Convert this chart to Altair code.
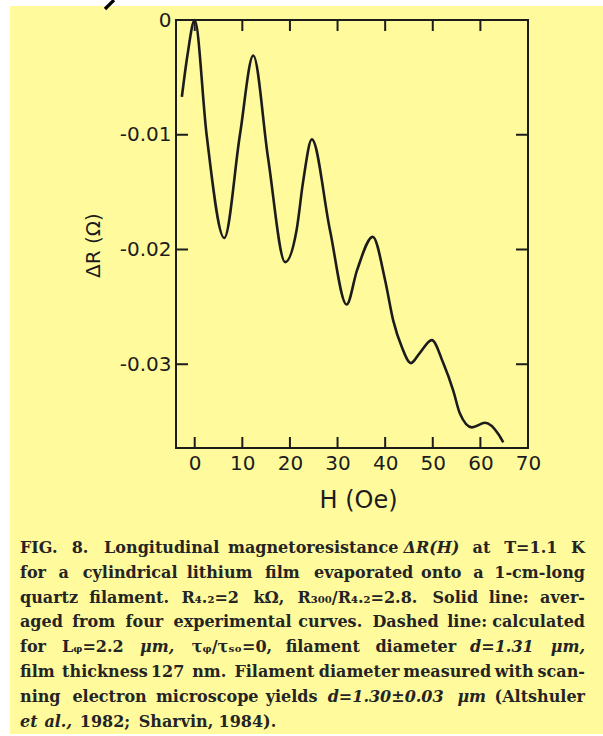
import altair as alt
import pandas as pd

# ---- measured curve: field H (Oe) vs magnetoresistance change dR (Ohm) ----
H_OE = [-2.7, -1.5, 0.0, 2.5, 6.2, 9.5, 12.3, 15.4, 19.0, 21.4, 22.8, 24.6,
        28.4, 31.9, 34.1, 37.4, 40.0, 41.7, 43.5, 45.4, 47.3, 49.8, 52.2,
        54.3, 55.7, 58.2, 61.0, 63.8, 64.8]
DELTA_R = [-0.0067, -0.0030, 0.0, -0.0100, -0.0190, -0.0100, -0.0031, -0.0120,
           -0.0211, -0.0183, -0.0140, -0.0104, -0.0183, -0.0248, -0.0218,
           -0.0189, -0.0227, -0.0262, -0.0285, -0.0299, -0.0290, -0.0279,
           -0.0299, -0.0323, -0.0343, -0.0355, -0.0351, -0.0361, -0.0368]

X_LABELS = [0, 10, 20, 30, 40, 50, 60, 70]
X_TICKS = [0, 10, 20, 30, 40, 50, 60]
Y_LABELS = [0, -0.01, -0.02, -0.03]
Y_TICKS = [-0.01, -0.02, -0.03]

X_TITLE = "H (Oe)"
Y_TITLE = "ΔR (Ω)"

CAPTION = [
    "FIG. 8.  Longitudinal magnetoresistance ΔR(H) at T=1.1 K",
    "for a cylindrical lithium film evaporated onto a 1-cm-long",
    "quartz filament.  R₄.₂=2 kΩ, R₃₀₀/R₄.₂=2.8. Solid line: aver-",
    "aged from four experimental curves. Dashed line: calculated",
    "for Lᵩ=2.2 μm, τᵩ/τₛₒ=0, filament diameter d=1.31 μm,",
    "film thickness 127 nm. Filament diameter measured with scan-",
    "ning electron microscope yields d=1.30±0.03 μm (Altshuler",
    "et al., 1982; Sharvin, 1984).",
]
ITALIC_WORDS = {"ΔR(H)", "d=1.31", "d=1.30±0.03", "μm", "μm,", "et", "al.,"}

# ---- page geometry ----
PAGE_W, PAGE_H = 603, 736
LEFT, TOP, PLOT_W, PLOT_H = 176, 20, 352, 428
SHEET = (10, 6, 603, 734)          # yellow sheet: x0, y0, x1, y1
YELLOW = "#fffb9c"
INK = "#1c1c1c"
TICK_LEN = 11

X_DOMAIN = [-3.93, 70]
Y_DOMAIN = [-0.0373, 0]

# approximate advance widths (em) of DejaVu Serif Bold, used to justify the caption
CHAR_W = {
    "a": .596, "b": .640, "c": .560, "d": .640, "e": .592, "f": .370, "g": .640,
    "h": .712, "i": .356, "j": .344, "k": .665, "l": .356, "m": 1.059, "n": .712,
    "o": .602, "p": .640, "q": .640, "r": .519, "s": .514, "t": .432, "u": .712,
    "v": .565, "w": .855, "x": .564, "y": .565, "z": .523,
    "F": .68, "I": .40, "T": .70, "K": .79, "L": .68, "R": .77, "S": .65,
    "D": .83, "A": .74, "G": .82, "H": .90,
    " ": .348, ".": .38, ",": .38, "-": .42, "=": .838, "(": .47, ")": .47,
    "/": .37, ";": .40, ":": .40, "±": .838, "Δ": .76, "Ω": .80, "μ": .66,
    "τ": .55, "₄": .45, "₂": .45, "₃": .45, "₀": .45, "ᵩ": .45, "ₛ": .45, "ₒ": .45,
}
for dgt in "0123456789":
    CHAR_W[dgt] = .696

CAP_SIZE = 16
CAP_X0, CAP_X1 = 20, 585
CAP_Y0, CAP_DY = 548, 24.8


def word_width(w):
    return sum(CHAR_W.get(c, 0.72) for c in w) * CAP_SIZE


rows = []
for i, line in enumerate(CAPTION):
    words = line.split()
    widths = [word_width(w) for w in words]
    last_line = i == len(CAPTION) - 1
    if last_line:
        gap = 0.5 * CAP_SIZE
    else:
        gap = max(3.0, (CAP_X1 - CAP_X0 - sum(widths)) / (len(words) - 1))
    x = CAP_X0
    for j, (w, ww) in enumerate(zip(words, widths)):
        right = (not last_line) and j == len(words) - 1
        rows.append({
            "px": (CAP_X1 if right else x) - LEFT,
            "py": CAP_Y0 + i * CAP_DY - TOP,
            "word": w,
            "align": "right" if right else "left",
            "italic": w in ITALIC_WORDS,
        })
        x += ww + gap
cap_df = pd.DataFrame(rows)

curve = pd.DataFrame({"H": H_OE, "R": DELTA_R})


# frame ticks in plot pixels, mapped linearly from the same axis domains
def px_x(h):
    return (h - X_DOMAIN[0]) / (X_DOMAIN[1] - X_DOMAIN[0]) * PLOT_W


def px_y(r):
    return (Y_DOMAIN[1] - r) / (Y_DOMAIN[1] - Y_DOMAIN[0]) * PLOT_H


ticks = pd.DataFrame(
    [{"x0": px_x(h), "x1": px_x(h), "y0": PLOT_H, "y1": PLOT_H - TICK_LEN} for h in X_TICKS]
    + [{"x0": px_x(h), "x1": px_x(h), "y0": 0, "y1": TICK_LEN} for h in X_TICKS]
    + [{"x0": 0, "x1": TICK_LEN + 1, "y0": px_y(r), "y1": px_y(r)} for r in Y_TICKS]
    + [{"x0": PLOT_W - TICK_LEN - 1, "x1": PLOT_W, "y0": px_y(r), "y1": px_y(r)} for r in Y_TICKS]
)

x_scale = alt.Scale(domain=X_DOMAIN, nice=False, zero=False)
y_scale = alt.Scale(domain=Y_DOMAIN, nice=False, zero=False)

x_axis = alt.Axis(
    values=X_LABELS, title=X_TITLE, grid=False, domain=False, ticks=False,
    labelFlush=False, labelPadding=21, labelBaseline="alphabetic",
    labelFont="DejaVu Sans", labelFontSize=20, labelColor=INK,
    titleFont="DejaVu Sans", titleFontSize=24, titleFontWeight="normal",
    titleColor=INK, titleX=182, titleY=59, titleBaseline="alphabetic",
    titleAlign="center", zindex=2,
)
y_axis = alt.Axis(
    values=Y_LABELS, title=Y_TITLE, grid=False, domain=False, ticks=False,
    labelPadding=5, labelFont="DejaVu Sans", labelFontSize=20, labelColor=INK,
    labelExpr="datum.value == 0 ? '0' : '-' + format(abs(datum.value), '.2f')",
    titleFont="DejaVu Sans", titleFontSize=20, titleFontWeight="normal",
    titleColor=INK, titleAngle=270, titleX=-77, titleY=225,
    titleBaseline="alphabetic", titleAlign="center", zindex=2,
)

line = alt.Chart(curve).mark_line(
    color=INK, strokeWidth=2.6, interpolate="monotone"
).encode(
    x=alt.X("H:Q", scale=x_scale, axis=x_axis),
    y=alt.Y("R:Q", scale=y_scale, axis=y_axis),
)

# inward-pointing ticks on all four sides of the frame
tick_marks = alt.Chart(ticks).mark_rule(color=INK, strokeWidth=2).encode(
    x=alt.X("x0:Q", scale=None, axis=None), x2="x1:Q",
    y=alt.Y("y0:Q", scale=None, axis=None), y2="y1:Q",
)

# yellow sheet around the plot frame (the frame interior is the view fill);
# each band stops 1px short of the frame so the frame stroke stays visible
one = pd.DataFrame({"k": [0]})


def band(x0, x1, y0, y1):
    return alt.Chart(one).mark_rect(color=YELLOW).encode(
        x=alt.value(x0 - LEFT), x2=alt.value(x1 - LEFT),
        y=alt.value(y0 - TOP), y2=alt.value(y1 - TOP),
    )


sx0, sy0, sx1, sy1 = SHEET
R_EDGE, B_EDGE = LEFT + PLOT_W, TOP + PLOT_H
bands = [
    band(sx0, sx1, sy0, TOP - 1),
    band(sx0, sx1, B_EDGE + 1, sy1),
    band(sx0, LEFT - 1, TOP - 1, B_EDGE + 1),
    band(R_EDGE + 1, sx1, TOP - 1, B_EDGE + 1),
]

# stroke left over from the page above, at the top edge
heading_stub = alt.Chart(one).mark_rule(color="black", strokeWidth=3.2).encode(
    x=alt.value(114 - LEFT), y=alt.value(0 - TOP),
    x2=alt.value(105 - LEFT), y2=alt.value(9 - TOP),
)


def caption_layer(align, italic):
    sub = cap_df[(cap_df["align"] == align) & (cap_df["italic"] == italic)]
    return alt.Chart(sub).mark_text(
        font="DejaVu Serif", fontSize=CAP_SIZE, fontWeight="bold",
        fontStyle="italic" if italic else "normal",
        color="#242424", align=align, baseline="middle",
    ).encode(
        x=alt.X("px:Q", scale=None, axis=None),
        y=alt.Y("py:Q", scale=None, axis=None),
        text="word:N",
    )


captions = [caption_layer(a, it) for a in ("left", "right") for it in (False, True)
            if len(cap_df[(cap_df["align"] == a) & (cap_df["italic"] == it)])]

chart = alt.layer(*bands, heading_stub, line, tick_marks, *captions).resolve_scale(
    x="independent", y="independent"
).properties(
    width=PLOT_W, height=PLOT_H,
    padding={"left": LEFT, "top": TOP, "right": PAGE_W - LEFT - PLOT_W,
             "bottom": PAGE_H - TOP - PLOT_H},
    autosize=alt.AutoSizeParams(type="none"),
    background="white",
).configure_view(fill=YELLOW, stroke=INK, strokeWidth=2)

chart.save("out.html", embed_options={"renderer": "svg", "actions": False})
